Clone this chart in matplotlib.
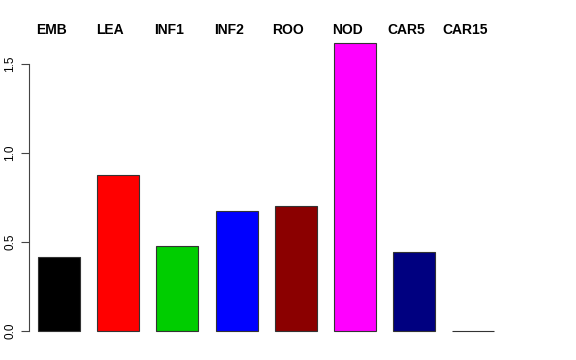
import numpy as np
import matplotlib.pyplot as plt

plt.rcParams["font.family"] = ["Liberation Sans", "DejaVu Sans"]

# data
categories = ["EMB", "LEA", "INF1", "INF2", "ROO", "NOD", "CAR5", "CAR15"]
values = [0.416, 0.876, 0.478, 0.674, 0.702, 1.618, 0.444, 0.003]
colors = ["#000000", "#FF0000", "#00CD00", "#0000FF", "#8B0000",
          "#FF00FF", "#000080", "#FFFF00"]
yticks = [0.0, 0.5, 1.0, 1.5]

fig = plt.figure(figsize=(5.76, 3.6), dpi=100)
ax = fig.add_axes([29 / 576, 17 / 360, 474 / 576, 312 / 360])

x = np.arange(len(categories))
ax.bar(x, values, width=0.71, color=colors, edgecolor="#333333", linewidth=0.8)

ax.set_xlim(-0.507, 7.5)
ax.set_ylim(-0.067, 1.685)

# category names above the bars, shifted a little to the left as in R's text()
for xi, name in zip(x, categories):
    ax.text(xi - 0.135, 1.668, name, ha="center", va="baseline",
            fontsize=10, fontweight="bold", clip_on=False)

# R-style axis: left only, line spans ticks
for side in ["top", "right", "bottom"]:
    ax.spines[side].set_visible(False)
ax.spines["left"].set_bounds(0, 1.5)
ax.spines["left"].set_color("#444444")
ax.set_xticks([])
ax.set_yticks(yticks)
ax.set_yticklabels([f"{t:.1f}" for t in yticks], rotation=90, va="center",
                   fontsize=8.5)
ax.tick_params(axis="y", length=6, width=0.8, color="#444444", pad=3)

fig.savefig("out.png", dpi=100)
